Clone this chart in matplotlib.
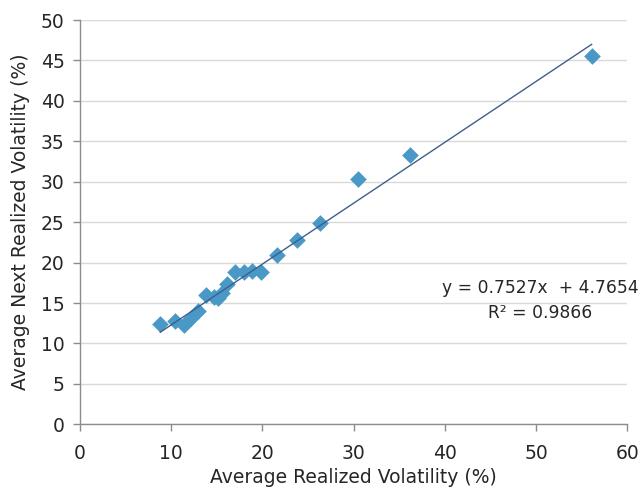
import matplotlib
matplotlib.use("Agg")
import matplotlib.pyplot as plt
import numpy as np

plt.rcParams['font.family'] = ['DejaVu Sans']

avg_realized = [8.8, 10.4, 11.4, 12.2, 12.9, 13.8, 14.7, 15.1, 15.6, 16.1, 17.0, 18.0,
                18.9, 19.9, 21.6, 23.8, 26.3, 30.5, 36.2, 56.1]
avg_next = [12.4, 12.8, 12.3, 13.2, 14.0, 16.0, 15.8, 15.6, 16.3, 17.4, 18.8, 18.9,
            19.0, 18.9, 20.9, 22.8, 24.9, 30.4, 33.3, 45.5]
slope = 0.7527
intercept = 4.7654
r2 = 0.9866
x_ticks = [0, 10, 20, 30, 40, 50, 60]
y_ticks = [0, 5, 10, 15, 20, 25, 30, 35, 40, 45, 50]

FS = 13.5
fig = plt.figure(figsize=(6.4, 4.91), dpi=100)
ax = fig.add_axes([0.125, 0.1358, 0.855, 0.8234])

ax.set_xlim(0, 60)
ax.set_ylim(0, 50)
ax.set_xticks(x_ticks)
ax.set_yticks(y_ticks)
ax.grid(axis='y', color='#d9d9d9', linewidth=1.0)
ax.set_axisbelow(True)

ax.scatter(avg_realized, avg_next, marker='D', s=72, color='#4a98c6', zorder=3, linewidths=0)
xs = np.array([min(avg_realized), max(avg_realized)])
ax.plot(xs, slope * xs + intercept, color='#3c5f8c', linewidth=1.0, zorder=4)

for s in ['top', 'right']:
    ax.spines[s].set_visible(False)
for s in ['left', 'bottom']:
    ax.spines[s].set_color('#8c8c8c')
    ax.spines[s].set_linewidth(1.0)
ax.tick_params(axis='both', colors='#8c8c8c', labelcolor='#262626', labelsize=FS,
               length=5, width=1.0, direction='out')
ax.tick_params(axis='y', pad=6)
ax.tick_params(axis='x', pad=9)

ax.set_xlabel('Average Realized Volatility (%)', fontsize=FS, color='#262626', labelpad=4)
ax.set_ylabel('Average Next Realized Volatility (%)', fontsize=FS, color='#262626', labelpad=8)

ax.text(540, 491 - 288, f'y = {slope}x  + {intercept}', transform=None, fontsize=12.3,
        color='#262626', ha='center', va='center')
ax.text(540, 491 - 313, f'R² = {r2}', transform=None, fontsize=12.3, color='#262626',
        ha='center', va='center')

fig.savefig('out.png', dpi=100)
